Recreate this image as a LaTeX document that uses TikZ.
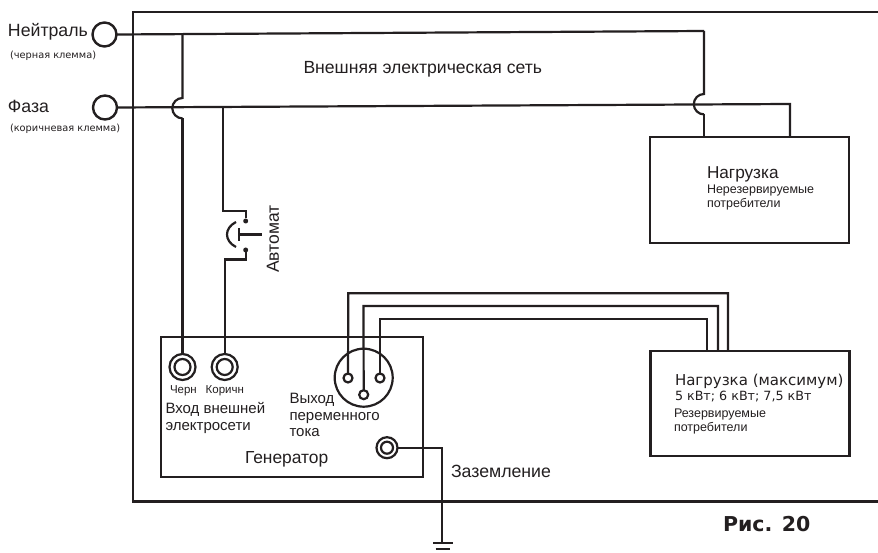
\documentclass[tikz,border=0pt]{standalone}
\usepackage{fontspec}
\setmainfont{Liberation Sans}
\newfontfamily\verd{DejaVu Sans}
\definecolor{ink}{HTML}{231F20}
\tikzset{
  wire/.style={draw=ink,line width=2.2pt,line join=miter},
  boxx/.style={draw=ink,line width=2.2pt},
  lbl/.style={anchor=base west,inner sep=0pt,outer sep=0pt,text=ink},
  term/.style={circle,draw=ink,line width=2.4pt,minimum size=24pt,inner sep=0pt,outer sep=0pt},
  sockout/.style={circle,draw=ink,line width=2.2pt,inner sep=0pt,outer sep=0pt},
  pin/.style={circle,draw=ink,fill=white,line width=2.2pt,minimum size=9pt,inner sep=0pt,outer sep=0pt},
  cdot/.style={circle,fill=ink,minimum size=5pt,inner sep=0pt,outer sep=0pt}
}
\begin{document}
\begin{tikzpicture}[x=1pt,y=-1pt]
\useasboundingbox (0,0) rectangle (878,553);
\fill[white] (0,0) rectangle (878,553);
% outer frame
\draw[wire] (878,12) -- (133,12) -- (133,501.5) -- (878,501.5);
% terminals
\node[term] (tn) at (104.5,34.5) {};
\node[term] (tf) at (105,107.5) {};
% generator and loads
\node[boxx,minimum width=262.5pt,minimum height=139.5pt,inner sep=0pt,outer sep=0pt] (gen) at (292,407) {};
\node[boxx,minimum width=199pt,minimum height=106pt,inner sep=0pt,outer sep=0pt] (load1) at (749.5,189.7) {};
\node[boxx,minimum width=199pt,minimum height=105pt,inner sep=0pt,outer sep=0pt] (load2) at (750,403.5) {};
% sockets
\foreach \n/\x in {sb/182.5,sk/224.7}{
  \node[sockout,minimum size=26pt] (\n) at (\x,367) {};
  \node[sockout,minimum size=16pt] (\n i) at (\x,367) {};
}
\node[sockout,minimum size=21pt] (se) at (387,447.7) {};
\node[sockout,minimum size=12pt] (sei) at (387,447.7) {};
% AC connector
\node[circle,draw=ink,line width=2.2pt,minimum size=58pt,inner sep=0pt,outer sep=0pt] (ac) at (363.7,377.7) {};
\node[pin] (p1) at (348,378) {};
\node[pin] (p2) at (363.7,394.7) {};
\node[pin] (p3) at (380,378) {};
% main lines
\coordinate (ne) at (704,31);
\coordinate (fe) at (790,104);
\draw[wire] (tn.east) -- (ne);
\draw[wire] (tf.east) -- (fe) -- (790,136.7);
% neutral to right load with hop
\draw[wire] (ne) -- (704,94) arc[start angle=90,end angle=270,radius=10.2,y radius=-10.2] ;
\draw[wire] (704,114.4) -- (704,136.7);
% neutral to generator with hop
\coordinate (nt) at (182.5,33.8);
\draw[wire] (nt) -- (182.5,98) arc[start angle=90,end angle=270,radius=10.2,y radius=-10.2];
\draw[wire] (182.5,118.4) -- (sb.north);
% phase through breaker
\coordinate (ft) at (223,107);
\node[cdot] (b1) at (245.7,221) {};
\node[cdot] (b2) at (245.7,250) {};
\draw[wire] (ft) -- (223,211) -- (245.7,211) -- (b1);
\draw[wire] (b2) -- (245.7,259.5) -- (224.7,259.5) -- (sk.north);
% breaker symbol
\draw[wire] (236,222) .. controls (224,228) and (224,241) .. (236,247);
\coordinate (t0) at (239,234.5);
\draw[wire] (239,228) -- (239,241.5);
\coordinate (t1) at (261.7,234.5);
\draw[wire] (t0) -- (t1);
% output wires
\draw[wire] (p1) -- (348.3,293.3) -- (728,293.3) -- (728,350.7);
\draw[wire] (p2) -- (363.5,306) -- (718,306) -- (718,350.7);
\draw[wire] (p3) -- (380,319.3) -- (707,319.3) -- (707,350.7);
% ground
\coordinate (g0) at (442,447.7);
\coordinate (g1) at (442,542.7);
\draw[wire] (se.east) -- (g0) -- (g1);
\coordinate (ga) at (433,542.7);\coordinate (gb) at (452.7,542.7);
\coordinate (gc) at (435.7,549.3);\coordinate (gd) at (449.7,549.3);
\draw[wire] (ga) -- (gb);
\draw[wire] (gc) -- (gd);
% text
\node[lbl,font=\fontsize{17.7}{20}\selectfont] (tx1) at (8,36.7) {Нейтраль};
\node[lbl,font=\fontsize{9.8}{11}\selectfont\verd] (tx2) at (10,59) {(черная клемма)};
\node[lbl,font=\fontsize{17.7}{20}\selectfont] (tx3) at (8,112.7) {Фаза};
\node[lbl,font=\fontsize{9.8}{11}\selectfont\verd] (tx4) at (10,132) {(коричневая клемма)};
\node[lbl,font=\fontsize{17.6}{20}\selectfont] (tx5) at (303.5,74) {Внешняя электрическая сеть};
\node[lbl,font=\fontsize{17.2}{20}\selectfont] (tx6) at (707,179) {Нагрузка};
\node[lbl,font=\fontsize{12.5}{14}\selectfont] (tx7) at (707,194) {Нерезервируемые};
\node[lbl,font=\fontsize{12.5}{14}\selectfont] (tx7b) at (707,208) {потребители};
\node[lbl,font=\fontsize{15}{18}\selectfont\verd] (tx8) at (675,385) {Нагрузка (максимум)};
\node[lbl,font=\fontsize{12.7}{14}\selectfont\verd] (tx9) at (675,400) {5 кВт; 6 кВт; 7,5 кВт};
\node[lbl,font=\fontsize{12.5}{14}\selectfont] (tx10) at (674,417.7) {Резервируемые};
\node[lbl,font=\fontsize{12.5}{14}\selectfont] (tx10b) at (674,431.7) {потребители};
\node[lbl,font=\fontsize{11.5}{12}\selectfont] (tx11) at (170,393) {Черн};
\node[lbl,font=\fontsize{11.5}{12}\selectfont] (tx12) at (205.7,393) {Коричн};
\node[lbl,font=\fontsize{15}{17}\selectfont] (tx13) at (165.5,413) {Вход внешней};
\node[lbl,font=\fontsize{15}{17}\selectfont] (tx13b) at (165.5,430) {электросети};
\node[lbl,font=\fontsize{15}{17}\selectfont] (tx14) at (289.5,403) {Выход};
\node[lbl,font=\fontsize{15}{17}\selectfont] (tx14b) at (289.5,420) {переменного};
\node[lbl,font=\fontsize{15}{17}\selectfont] (tx14c) at (289.5,436.7) {тока};
\node[lbl,font=\fontsize{17.4}{18}\selectfont] (tx15) at (245,463) {Генератор};
\node[lbl,font=\fontsize{17.7}{18}\selectfont] (tx16) at (451,477) {Заземление};
\node[lbl,font=\fontsize{20.5}{22}\selectfont\verd\bfseries] (tx17) at (723,531) {Рис. 20};
\node[anchor=center,inner sep=0pt,rotate=90,text=ink,font=\fontsize{17.5}{20}\selectfont] (tx18) at (273,239) {Автомат};
\end{tikzpicture}
\end{document}
